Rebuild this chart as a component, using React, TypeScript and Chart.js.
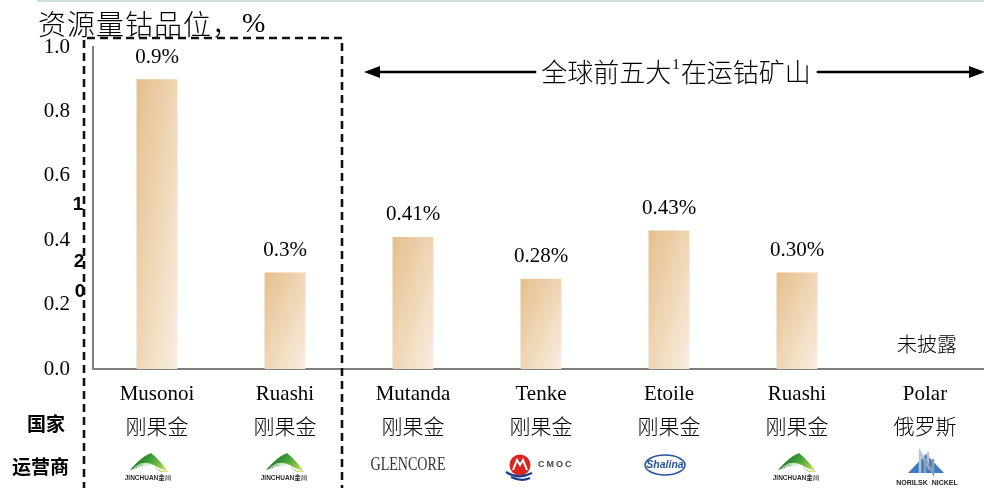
import { useEffect, useRef } from 'react';
import { Chart, registerables } from 'chart.js';

Chart.register(...registerables);

// Mines, their country and operator
const mines = ['Musonoi', 'Ruashi', 'Mutanda', 'Tenke', 'Etoile', 'Ruashi', 'Polar'];
const countries = ['刚果金', '刚果金', '刚果金', '刚果金', '刚果金', '刚果金', '俄罗斯'];
const operators = ['jinchuan', 'jinchuan', 'glencore', 'cmoc', 'shalina', 'jinchuan', 'norilsk'];

// Cobalt grade of resources, % (null = not disclosed)
const grades: (number | null)[] = [0.9, 0.3, 0.41, 0.28, 0.43, 0.3, null];
const gradeDecimals = [1, 1, 2, 2, 2, 2, 0];
const yTicks = [0, 0.2, 0.4, 0.6, 0.8, 1.0];

const titleText = '资源量钴品位，';
const titleUnit = '%';
const arrowTextA = '全球前五大';
const arrowSup = '1';
const arrowTextB = '在运钴矿山';
const undisclosedText = '未披露';
const rowCountry = '国家';
const rowOperator = '运营商';

const SERIF = "'Liberation Serif', 'Noto Sans CJK SC', serif";
const CJK = "'Noto Sans CJK SC', sans-serif";
const SANS = "'Liberation Sans', 'Noto Sans CJK SC', sans-serif";

const BAR_FALLBACK = '#ebcfa8';

function barFill(ctx: any) {
  const chart = ctx.chart;
  const xs = chart.scales?.x;
  const ys = chart.scales?.y;
  if (ctx.type !== 'data' || !xs || !ys || ctx.raw == null) return BAR_FALLBACK;
  const cx = xs.getPixelForValue(ctx.dataIndex);
  const w = (xs.width / mines.length) * 0.32;
  const top = ys.getPixelForValue(ctx.raw);
  const base = ys.getPixelForValue(0);
  if (![cx, w, top, base].every((n) => Number.isFinite(n)) || w <= 0) return BAR_FALLBACK;
  const h = Math.max(base - top, 1);
  const x0 = cx - w / 2;
  const y0 = top;
  // diagonal gradient scaled to the bar's own box (top-left dark -> bottom-right light)
  const s = 2 / (1 / (w * w) + 1 / (h * h));
  const x1 = x0 + s / w;
  const y1 = y0 + s / h;
  if (![x0, y0, x1, y1].every((n) => Number.isFinite(n))) return BAR_FALLBACK;
  const g = chart.ctx.createLinearGradient(x0, y0, x1, y1);
  g.addColorStop(0, '#e5bf8a');
  g.addColorStop(1, '#f8eee2');
  return g;
}

function drawJinchuan(c: CanvasRenderingContext2D, cx: number, cy: number) {
  c.save();
  const g = c.createLinearGradient(cx - 12, cy - 10, cx + 14, cy + 10);
  g.addColorStop(0, '#16712a');
  g.addColorStop(0.45, '#3f9f36');
  g.addColorStop(0.8, '#8cc44a');
  g.addColorStop(1, '#d3e36a');
  c.fillStyle = g;
  // solid tent-like peak
  c.beginPath();
  c.moveTo(cx - 19, cy + 7);
  c.quadraticCurveTo(cx - 8, cy - 6, cx + 2, cy - 10);
  c.quadraticCurveTo(cx + 12, cy - 2, cx + 19, cy + 9);
  c.lineTo(cx + 11, cy + 9);
  c.quadraticCurveTo(cx + 6, cy + 3, cx + 1, cy + 2);
  c.quadraticCurveTo(cx - 9, cy + 3, cx - 19, cy + 7);
  c.closePath();
  c.fill();
  // light stripes across the peak
  c.strokeStyle = 'rgba(255,255,255,0.85)';
  c.lineWidth = 1;
  for (let i = 0; i < 3; i++) {
    c.beginPath();
    c.moveTo(cx - 15 + i * 3, cy + 5 - i * 0.5);
    c.quadraticCurveTo(cx - 2, cy - 6 + i * 2.5, cx + 12 + i * 2, cy + 8);
    c.stroke();
  }
  c.fillStyle = '#2b2b2b';
  c.font = `bold 6.5px ${SANS}`;
  c.textAlign = 'center';
  c.textBaseline = 'middle';
  c.fillText('JINCHUAN金川', cx - 1, cy + 15);
  c.restore();
}

function drawGlencore(c: CanvasRenderingContext2D, cx: number, cy: number) {
  c.save();
  c.font = `19px ${SERIF}`;
  const w = c.measureText('GLENCORE').width || 75;
  c.translate(cx, cy);
  c.scale(75 / w, 1);
  c.fillStyle = '#333';
  c.textAlign = 'center';
  c.textBaseline = 'middle';
  c.fillText('GLENCORE', 0, 0);
  c.restore();
}

function drawCmoc(c: CanvasRenderingContext2D, cx: number, cy: number) {
  c.save();
  const x = cx - 21;
  const y = cy;
  c.fillStyle = '#d9261f';
  c.beginPath();
  c.arc(x, y - 1, 10.5, 0, Math.PI * 2);
  c.fill();
  c.strokeStyle = '#ffffff';
  c.lineWidth = 2;
  c.beginPath();
  c.moveTo(x - 7, y + 4);
  c.lineTo(x - 3, y - 6);
  c.lineTo(x, y - 1);
  c.lineTo(x + 3, y - 6);
  c.lineTo(x + 7, y + 4);
  c.stroke();
  c.strokeStyle = '#1e3f8e';
  c.lineWidth = 2.2;
  c.beginPath();
  c.moveTo(x - 14, y + 6);
  c.quadraticCurveTo(x - 2, y + 14, x + 12, y + 7);
  c.stroke();
  c.beginPath();
  c.moveTo(x - 9, y + 11);
  c.quadraticCurveTo(x + 1, y + 16, x + 10, y + 12);
  c.stroke();
  c.fillStyle = '#444';
  c.font = `bold 9px ${SANS}`;
  c.textAlign = 'left';
  c.textBaseline = 'middle';
  (c as any).letterSpacing = '2px';
  c.fillText('CMOC', cx - 3, y - 1);
  c.restore();
}

function drawShalina(c: CanvasRenderingContext2D, cx: number, cy: number) {
  c.save();
  const x = cx - 4;
  c.fillStyle = '#ffffff';
  c.strokeStyle = '#2a52a3';
  c.lineWidth = 1.6;
  c.beginPath();
  c.ellipse(x, cy, 20, 10, 0, 0, Math.PI * 2);
  c.fill();
  c.stroke();
  c.fillStyle = '#2a52a3';
  c.font = `bold italic 10.5px ${SANS}`;
  c.textAlign = 'center';
  c.textBaseline = 'middle';
  c.fillText('Shalina', x, cy + 0.5);
  c.restore();
}

function drawNorilsk(c: CanvasRenderingContext2D, cx: number, cy: number) {
  c.save();
  const x = cx + 1;
  c.fillStyle = '#3c7cc6';
  c.beginPath();
  c.moveTo(x - 18, cy + 9);
  c.lineTo(x, cy - 10);
  c.lineTo(x + 18, cy + 9);
  c.closePath();
  c.fill();
  c.strokeStyle = '#b9c4d2';
  c.lineWidth = 2.4;
  c.beginPath();
  c.moveTo(x - 6, cy + 9);
  c.lineTo(x - 6, cy - 12);
  c.lineTo(x + 2, cy + 2);
  c.lineTo(x + 2, cy - 12);
  c.stroke();
  c.strokeStyle = '#8e9fb6';
  c.beginPath();
  c.moveTo(x - 1, cy + 9);
  c.lineTo(x - 1, cy - 5);
  c.lineTo(x + 7, cy + 9);
  c.lineTo(x + 7, cy - 5);
  c.stroke();
  c.fillStyle = '#222';
  c.font = `bold 7px ${SANS}`;
  c.textAlign = 'center';
  c.textBaseline = 'middle';
  c.fillText('NORILSK  NICKEL', x + 1, cy + 19);
  c.restore();
}

const logoOffset: Record<number, number> = { 0: -8 };

const decorations = {
  id: 'decorations',
  afterDraw(chart: any) {
    const c: CanvasRenderingContext2D = chart.ctx;
    const xs = chart.scales.x;
    const ys = chart.scales.y;
    c.save();

    // thin rule along the top
    c.strokeStyle = '#bcd9cf';
    c.lineWidth = 1.5;
    c.beginPath();
    c.moveTo(37, 1);
    c.lineTo(984, 1);
    c.stroke();

    // axis title
    c.fillStyle = '#000';
    c.font = `300 28px ${CJK}`;
    c.textAlign = 'left';
    c.textBaseline = 'middle';
    (c as any).letterSpacing = '1px';
    c.fillText(titleText, 38, 24);
    const wt = c.measureText(titleText).width;
    (c as any).letterSpacing = '0px';
    c.font = `28px ${SERIF}`;
    c.fillText(titleUnit, 38 + wt + 1, 25);

    // value labels above bars
    const meta = chart.getDatasetMeta(0);
    c.font = `21px ${SERIF}`;
    c.textAlign = 'center';
    grades.forEach((v, i) => {
      const el = meta.data[i];
      if (v == null) {
        c.font = `300 20px ${CJK}`;
        c.fillText(undisclosedText, xs.getPixelForValue(i) + 2, ys.getPixelForValue(0) - 25);
        c.font = `21px ${SERIF}`;
        return;
      }
      c.fillText(`${v.toFixed(gradeDecimals[i])}%`, el.x, el.y - 22);
    });

    // bracket arrow over the top-five operating mines
    const ay = 72;
    c.font = `300 26px ${CJK}`;
    const wA = c.measureText(arrowTextA).width;
    const wB = c.measureText(arrowTextB).width;
    c.font = `15px ${SERIF}`;
    const wS = c.measureText(arrowSup).width + 2;
    const total = wA + wS + wB;
    const tx = 676 - total / 2;
    c.strokeStyle = '#000';
    c.fillStyle = '#000';
    c.lineWidth = 2.4;
    c.beginPath();
    c.moveTo(376, ay);
    c.lineTo(tx - 5, ay);
    c.moveTo(tx + total + 6, ay);
    c.lineTo(972, ay);
    c.stroke();
    c.beginPath();
    c.moveTo(364, ay);
    c.lineTo(380, ay - 6);
    c.lineTo(380, ay + 6);
    c.closePath();
    c.fill();
    c.beginPath();
    c.moveTo(985, ay);
    c.lineTo(969, ay - 6);
    c.lineTo(969, ay + 6);
    c.closePath();
    c.fill();
    c.textAlign = 'left';
    c.font = `300 26px ${CJK}`;
    c.fillText(arrowTextA, tx, ay);
    c.font = `15px ${SERIF}`;
    c.fillText(arrowSup, tx + wA + 1, ay - 7);
    c.font = `300 26px ${CJK}`;
    c.fillText(arrowTextB, tx + wA + wS, ay);

    // stray bold digits beside the axis
    c.font = `bold 19px ${SANS}`;
    c.textAlign = 'center';
    c.fillText('1', 78, 205);
    c.fillText('2', 79, 262);
    c.fillText('0', 80, 292);

    // dashed box round the first two mines
    c.setLineDash([8, 5]);
    c.lineWidth = 2.6;
    c.strokeStyle = '#111';
    c.beginPath();
    c.moveTo(84, 490);
    c.lineTo(84, 38);
    c.lineTo(342, 38);
    c.lineTo(342, 490);
    c.stroke();
    c.setLineDash([]);

    // row headings
    c.fillStyle = '#000';
    c.font = `bold 19px ${CJK}`;
    c.textAlign = 'left';
    c.textBaseline = 'middle';
    c.fillText(rowCountry, 27, 424);
    c.fillText(rowOperator, 12, 467);

    // operator marks
    operators.forEach((op, i) => {
      const cx = xs.getPixelForValue(i) + (logoOffset[i] || 0);
      if (op === 'jinchuan') drawJinchuan(c, cx, 463);
      else if (op === 'glencore') drawGlencore(c, cx - 5, 465);
      else if (op === 'cmoc') drawCmoc(c, cx, 466);
      else if (op === 'shalina') drawShalina(c, cx, 465);
      else if (op === 'norilsk') drawNorilsk(c, cx, 464);
    });

    c.restore();
  },
};

export default function App() {
  const ref = useRef<HTMLCanvasElement>(null);
  useEffect(() => {
    const canvas = ref.current;
    if (!canvas) return;
    const chart = new Chart(canvas, {
      type: 'bar',
      data: {
        labels: mines.map((m, i) => [m, countries[i]]),
        datasets: [
          {
            data: grades,
            backgroundColor: barFill,
            borderWidth: 0,
            barPercentage: 0.32,
            categoryPercentage: 1,
          },
        ],
      },
      options: {
        responsive: false,
        animation: false,
        layout: { padding: { top: 47, left: 0, right: 0, bottom: 0 } },
        plugins: {
          legend: { display: false },
          tooltip: { enabled: false },
          title: { display: false },
        },
        scales: {
          x: {
            grid: { display: false, drawTicks: false },
            border: { display: true, color: '#7f7f7f', width: 2 },
            ticks: {
              autoSkip: false,
              maxRotation: 0,
              color: '#000',
              padding: 8,
              font: { family: SERIF, size: 21, weight: '300', lineHeight: '34px' },
            },
            afterFit: (s: any) => {
              s.height = 119;
            },
          },
          y: {
            min: 0,
            max: 1,
            grid: { display: false, drawTicks: false },
            border: { display: true, color: '#7f7f7f', width: 2 },
            ticks: {
              color: '#000',
              padding: 23,
              font: { family: SERIF, size: 21 },
              callback: (v: any) => Number(v).toFixed(1),
            },
            afterBuildTicks: (s: any) => {
              s.ticks = yTicks.map((v) => ({ value: v }));
            },
            afterFit: (s: any) => {
              s.width = 93;
            },
          },
        },
      } as any,
      plugins: [decorations],
    });
    return () => chart.destroy();
  }, []);
  return (
    <div
      style={{
        position: 'absolute',
        left: 0,
        top: 0,
        width: 984,
        height: 488,
        overflow: 'hidden',
        background: '#fff',
      }}
    >
      <canvas ref={ref} width={989} height={488} style={{ display: 'block' }} />
    </div>
  );
}
